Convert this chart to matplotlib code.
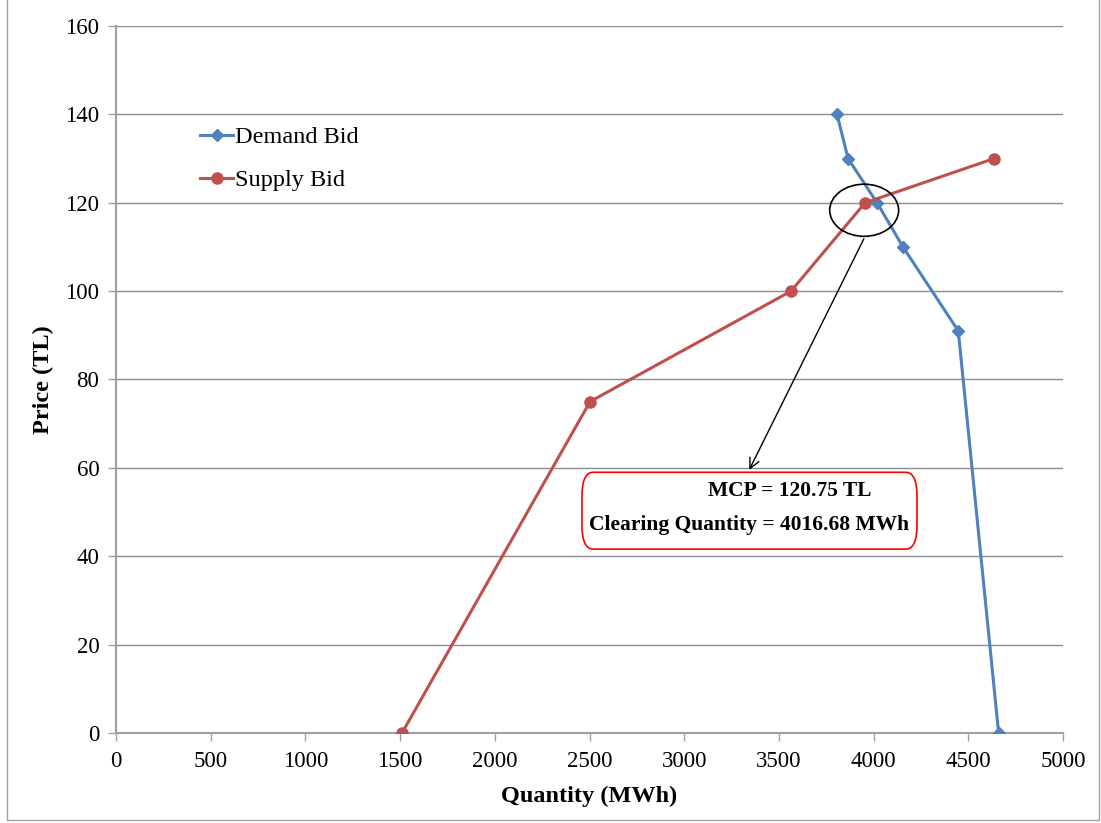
import matplotlib
matplotlib.use("Agg")
import matplotlib.pyplot as plt
from matplotlib.patches import Ellipse, FancyBboxPatch, Rectangle

plt.rcParams['font.family'] = ['Liberation Serif', 'DejaVu Serif']

# bid curves
demand_qty = [3807, 3865, 4018, 4155, 4447, 4660]
demand_price = [140, 130, 120, 110, 91, 0]
supply_qty = [1510, 2503, 3564, 3955, 4636]
supply_price = [0, 75, 100, 120, 130]

x_ticks = [0, 500, 1000, 1500, 2000, 2500, 3000, 3500, 4000, 4500, 5000]
y_ticks = [0, 20, 40, 60, 80, 100, 120, 140, 160]

mcp_text = "MCP = 120.75 TL"
qty_text = "Clearing Quantity = 4016.68 MWh"

BLUE = '#4F81BD'
RED = '#C0504D'

fig = plt.figure(figsize=(11.01, 8.23), dpi=100)
ax = fig.add_axes([0.1054, 0.1094, 0.8601, 0.8590])

ax.plot(demand_qty, demand_price, color=BLUE, lw=2.2, marker='D', ms=6.5,
        label='Demand Bid', zorder=3)
ax.plot(supply_qty, supply_price, color=RED, lw=2.2, marker='o', ms=8,
        label='Supply Bid', zorder=3)

ax.set_xlim(0, 5000)
ax.set_ylim(0, 160)
ax.set_xticks(x_ticks)
ax.set_yticks(y_ticks)
ax.tick_params(labelsize=16.5, color='#A0A0A0', length=6, width=1)
ax.tick_params(axis='x', pad=7)
ax.tick_params(axis='y', pad=6)
ax.grid(axis='y', color='#8C8C8C', lw=1)
ax.set_axisbelow(True)
for s in ['top', 'right']:
    ax.spines[s].set_visible(False)
for s in ['left', 'bottom']:
    ax.spines[s].set_color('#A0A0A0')
    ax.spines[s].set_linewidth(1.5)

ax.set_xlabel('Quantity (MWh)', fontsize=17.5, fontweight='bold', labelpad=10)
ax.set_ylabel('Price (TL)', fontsize=17.5, fontweight='bold', labelpad=8)

ax.legend(loc='upper left', bbox_to_anchor=(0.066, 0.889), frameon=False,
          fontsize=17.5, handlelength=1.35, handletextpad=0.08, labelspacing=0.85)

# circle around the crossing point and arrow to the note
ax.add_patch(Ellipse((3950, 118.3), 364, 11.8, fill=False, color='black',
                     lw=1.2, zorder=4))
ax.annotate('', xy=(3337, 59.0), xytext=(3955, 112.4),
            arrowprops=dict(arrowstyle='->', color='black', lw=1,
                            mutation_scale=18), zorder=4)

ax.add_patch(FancyBboxPatch((2460, 41.6), 1769, 17.4,
                            boxstyle='round,pad=0,rounding_size=60',
                            mutation_aspect=0.09, fc='white', ec='red',
                            lw=1.2, zorder=5))
ax.text(3559, 54.7, mcp_text, fontsize=15.5, fontweight='bold', ha='center',
        va='center', zorder=6)
ax.text(2495, 47.0, qty_text, fontsize=15.5, fontweight='bold', ha='left',
        va='center', zorder=6)

# thin frame around the whole picture
fig.patches.append(Rectangle((0.006, 0.004), 0.992, 1.1, transform=fig.transFigure,
                             fill=False, ec='#A0A0A0', lw=1))

fig.savefig('out.png', dpi=100)
